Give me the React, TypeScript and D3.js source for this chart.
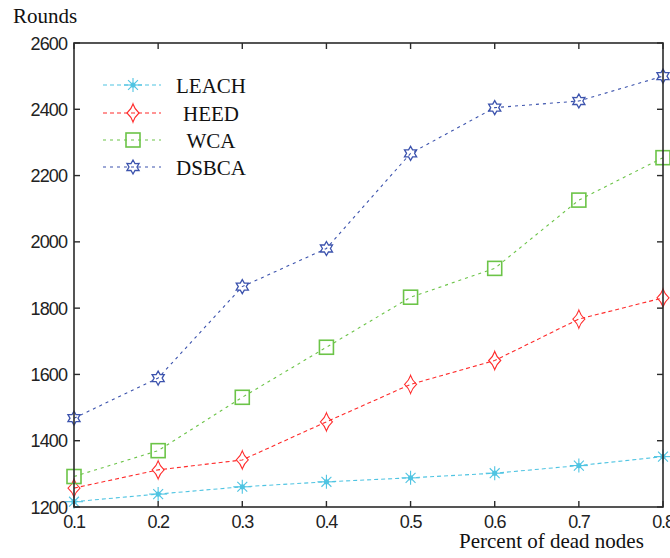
import React from "react";
import * as d3 from "d3";

const xValues = [0.1, 0.2, 0.3, 0.4, 0.5, 0.6, 0.7, 0.8];
const leach = [1216, 1239, 1261, 1276, 1288, 1302, 1325, 1352];
const heed = [1257, 1312, 1342, 1457, 1570, 1642, 1767, 1831];
const wca = [1292, 1370, 1531, 1682, 1833, 1920, 2126, 2254];
const dsbca = [1468, 1589, 1865, 1980, 2267, 2405, 2425, 2500];
const seriesNames = ["LEACH", "HEED", "WCA", "DSBCA"];
const yTicks = [1200, 1400, 1600, 1800, 2000, 2200, 2400, 2600];
const xTicks = [0.1, 0.2, 0.3, 0.4, 0.5, 0.6, 0.7, 0.8];

const W = 670;
const H = 558;
const plot = { left: 74, right: 663, top: 43, bottom: 507 };

const colors = ["#4fc4e2", "#ff2b2b", "#6cc448", "#3c53ad"];
const dashes = ["4,3", "4,3", "3,4", "3,4"];
const markerKinds = ["asterisk", "diamond", "square", "hexagram"];

function Marker({ kind, x, y, color }: { kind: string; x: number; y: number; color: string }) {
  if (kind === "asterisk") {
    const r = 7;
    const segs = [0, 45, 90, 135].map((a) => {
      const rad = (a * Math.PI) / 180;
      const len = a === 0 ? r + 2 : r;
      return (
        <line
          key={a}
          x1={x - len * Math.cos(rad)}
          y1={y - len * Math.sin(rad)}
          x2={x + len * Math.cos(rad)}
          y2={y + len * Math.sin(rad)}
          stroke={color}
          strokeWidth={1.1}
        />
      );
    });
    return (
      <g>
        {segs}
        <circle cx={x} cy={y} r={2.6} fill={color} />
      </g>
    );
  }
  if (kind === "diamond") {
    const p = d3.path();
    p.moveTo(x, y - 9);
    p.quadraticCurveTo(x + 1.5, y - 4, x + 6, y);
    p.quadraticCurveTo(x + 1.5, y + 4, x, y + 9);
    p.quadraticCurveTo(x - 1.5, y + 4, x - 6, y);
    p.quadraticCurveTo(x - 1.5, y - 4, x, y - 9);
    p.closePath();
    return <path d={p.toString()} fill="none" stroke={color} strokeWidth={1.1} />;
  }
  if (kind === "square") {
    return (
      <rect x={x - 7} y={y - 7} width={14} height={14} fill="none" stroke={color} strokeWidth={1.6} />
    );
  }
  const pts: [number, number][] = [];
  for (let i = 0; i < 12; i++) {
    const a = -Math.PI / 2 + (i * Math.PI) / 6;
    const r = i % 2 === 0 ? 7 : 4;
    pts.push([x + r * Math.cos(a), y + r * Math.sin(a)]);
  }
  return (
    <path
      d={(d3.line()(pts) || "") + "Z"}
      fill="none"
      stroke={color}
      strokeWidth={1.3}
    />
  );
}

export default function App() {
  const x = d3.scaleLinear().domain([0.1, 0.8]).range([plot.left, plot.right]);
  const y = d3.scaleLinear().domain([1200, 2600]).range([plot.bottom, plot.top]);
  const allSeries = [leach, heed, wca, dsbca];
  const line = d3
    .line<number>()
    .x((_, i) => x(xValues[i]))
    .y((v) => y(v));

  const axisColor = "#2b2b2b";
  const tickLen = 6;
  const tickFont = "'Liberation Sans', Arial, sans-serif";
  const serif = "'Liberation Serif', 'Times New Roman', serif";

  const legendY = [85, 113, 140, 167];

  return (
    <svg
      width={W}
      height={H}
      style={{ position: "absolute", left: 0, top: 0, background: "#fff" }}
    >
      <rect x={0} y={0} width={W} height={H} fill="#fff" />

      {/* series lines and markers */}
      {allSeries.map((s, si) => (
        <g key={seriesNames[si]}>
          <path
            d={line(s) || ""}
            fill="none"
            stroke={colors[si]}
            strokeWidth={1.1}
            strokeDasharray={dashes[si]}
          />
          {s.map((v, i) => (
            <Marker key={i} kind={markerKinds[si]} x={x(xValues[i])} y={y(v)} color={colors[si]} />
          ))}
        </g>
      ))}

      {/* axes box */}
      <rect
        x={plot.left}
        y={plot.top}
        width={plot.right - plot.left}
        height={plot.bottom - plot.top}
        fill="none"
        stroke={axisColor}
        strokeWidth={1.6}
      />
      {yTicks.map((t) => (
        <g key={"y" + t}>
          <line x1={plot.left} x2={plot.left + tickLen} y1={y(t)} y2={y(t)} stroke={axisColor} strokeWidth={1.4} />
          <line x1={plot.right} x2={plot.right - tickLen} y1={y(t)} y2={y(t)} stroke={axisColor} strokeWidth={1.4} />
          <text
            x={plot.left - 7}
            y={y(t) + 6.5}
            textAnchor="end"
            fontFamily={tickFont}
            fontSize={18}
            letterSpacing={-0.9}
            fill="#222"
          >
            {t}
          </text>
        </g>
      ))}
      {xTicks.map((t) => (
        <g key={"x" + t}>
          <line x1={x(t)} x2={x(t)} y1={plot.bottom} y2={plot.bottom - tickLen} stroke={axisColor} strokeWidth={1.4} />
          <line x1={x(t)} x2={x(t)} y1={plot.top} y2={plot.top + tickLen} stroke={axisColor} strokeWidth={1.4} />
          <text
            x={x(t)}
            y={528}
            textAnchor="middle"
            fontFamily={tickFont}
            fontSize={18}
            letterSpacing={-1.2}
            fill="#222"
          >
            {t.toFixed(1)}
          </text>
        </g>
      ))}

      <text x={13} y={23} fontFamily={serif} fontSize={21} fill="#111">
        Rounds
      </text>
      <text x={459} y={548} fontFamily={serif} fontSize={21} fill="#111">
        Percent of dead nodes
      </text>

      {/* legend */}
      {seriesNames.map((name, si) => (
        <g key={"lg" + name}>
          <line
            x1={103}
            x2={161}
            y1={legendY[si]}
            y2={legendY[si]}
            stroke={colors[si]}
            strokeWidth={1.1}
            strokeDasharray={dashes[si]}
          />
          <Marker kind={markerKinds[si]} x={133} y={legendY[si]} color={colors[si]} />
          <text
            x={211}
            y={legendY[si] + 7.5}
            textAnchor="middle"
            fontFamily={serif}
            fontSize={21}
            fill="#111"
          >
            {name}
          </text>
        </g>
      ))}
    </svg>
  );
}
